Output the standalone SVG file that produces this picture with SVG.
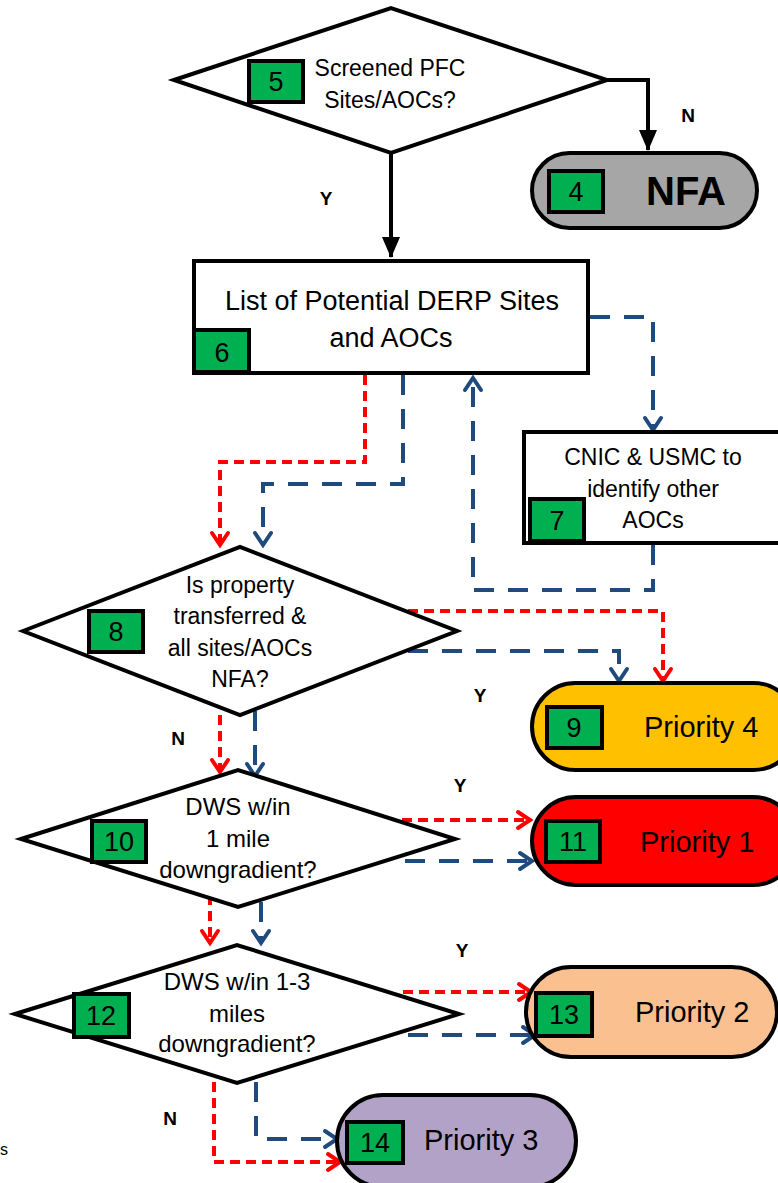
<svg xmlns="http://www.w3.org/2000/svg" width="778" height="1183" viewBox="0 0 778 1183">
<defs>
<style>
.shape{stroke:#000;stroke-width:4;stroke-linejoin:miter}
.white{fill:#fff}
.num{fill:#00b050;stroke:#000;stroke-width:4}
text{font-family:"Liberation Sans",Arial,sans-serif;fill:#000}
.t{font-size:23px;text-anchor:middle}
.nt{font-size:27px;text-anchor:middle}
.pr{font-size:29px}
.lbl{font-size:19px;font-weight:bold;text-anchor:middle}
.red{fill:none;stroke:#ff0000;stroke-width:4;stroke-dasharray:10 6}
.blue{fill:none;stroke:#1f4a7e;stroke-width:4;stroke-dasharray:20 14}
.blk{fill:none;stroke:#000;stroke-width:4}
</style>
<marker id="ar" markerUnits="userSpaceOnUse" markerWidth="20" markerHeight="20" refX="15" refY="10" orient="auto" overflow="visible">
<path d="M3,2 L15,10 L3,18" fill="none" stroke="#ff0000" stroke-width="4" stroke-linecap="round" stroke-linejoin="miter"/>
</marker>
<marker id="ab" markerUnits="userSpaceOnUse" markerWidth="20" markerHeight="20" refX="15" refY="10" orient="auto" overflow="visible">
<path d="M3,2 L15,10 L3,18" fill="none" stroke="#1f4a7e" stroke-width="4" stroke-linecap="round" stroke-linejoin="miter"/>
</marker>
<marker id="ak" markerUnits="userSpaceOnUse" markerWidth="24" markerHeight="24" refX="20" refY="9" orient="auto" overflow="visible">
<path d="M0,0 L21,9 L0,18 Z" fill="#000"/>
</marker>
</defs>

<g id="connectors">
<path class="blk" d="M607,80 H648 V150" marker-end="url(#ak)"/>
<path class="blk" d="M391,153 V257" marker-end="url(#ak)"/>
<path class="red" d="M365,375 V462 H220 V545" marker-end="url(#ar)"/>
<path class="blue" d="M403,375 V484 H263 V545" marker-end="url(#ab)"/>
<path class="blue" d="M590,317 H653 V430" marker-end="url(#ab)"/>
<path class="blue" d="M653,545 V590 H473 V378" marker-end="url(#ab)"/>
<path class="red" d="M408,611 H663 V681" marker-end="url(#ar)"/>
<path class="blue" d="M408,651 H619 V681" marker-end="url(#ab)"/>
<path class="red" d="M220,715 V772" marker-end="url(#ar)"/>
<path class="blue" d="M255,711 V776" marker-end="url(#ab)"/>
<path class="red" d="M402,820 H530" marker-end="url(#ar)"/>
<path class="blue" d="M405,861 H532" marker-end="url(#ab)"/>
<path class="red" d="M210,895 V943" marker-end="url(#ar)"/>
<path class="blue" d="M261,902 V943" marker-end="url(#ab)"/>
<path class="red" d="M403,992 H531" marker-end="url(#ar)"/>
<path class="blue" d="M408,1035 H535" marker-end="url(#ab)"/>
<path class="red" d="M214,1082 V1162 H340" marker-end="url(#ar)"/>
<path class="blue" d="M256,1082 V1139 H337" marker-end="url(#ab)"/>
</g>

<g id="node5">
<polygon class="shape white" points="174,80 391,8 607,80 391,153"/>
<rect class="num" x="249" y="61" width="54" height="41"/>
<text class="nt" x="276" y="91">5</text>
<text class="t" x="390" y="76">Screened PFC</text>
<text class="t" x="390" y="108">Sites/AOCs?</text>
</g>

<g id="node4">
<rect class="shape" x="532" y="153" width="225" height="75" rx="37.5" fill="#a6a6a6"/>
<rect class="num" x="549" y="171" width="54" height="41"/>
<text class="nt" x="576" y="201">4</text>
<text x="686" y="205" style="font-size:40px;font-weight:bold;text-anchor:middle">NFA</text>
</g>

<g id="node6">
<rect class="shape white" x="194" y="261" width="394" height="112"/>
<rect class="num" x="194" y="330" width="55" height="42"/>
<text class="nt" x="222" y="362">6</text>
<text x="392" y="310" style="font-size:27px;text-anchor:middle">List of Potential DERP Sites</text>
<text x="391" y="347" style="font-size:27px;text-anchor:middle">and AOCs</text>
</g>

<g id="node7">
<rect class="shape white" x="524" y="432" width="272" height="111"/>
<rect class="num" x="530" y="499" width="54" height="42"/>
<text class="nt" x="557" y="530">7</text>
<text class="t" x="653" y="465">CNIC &amp; USMC to</text>
<text class="t" x="653" y="497">identify other</text>
<text class="t" x="653" y="528">AOCs</text>
</g>

<g id="node8">
<polygon class="shape white" points="23,631 240,547 457,631 240,715"/>
<rect class="num" x="89" y="611" width="54" height="41"/>
<text class="nt" x="116" y="641">8</text>
<text class="t" x="240" y="593">Is property</text>
<text class="t" x="240" y="624">transferred &amp;</text>
<text class="t" x="240" y="656">all sites/AOCs</text>
<text class="t" x="240" y="687">NFA?</text>
</g>

<g id="node9">
<rect class="shape" x="532" y="683" width="265" height="87" rx="43.5" fill="#ffc000"/>
<rect class="num" x="547" y="707" width="55" height="41"/>
<text class="nt" x="574" y="737">9</text>
<text class="pr" x="644" y="737">Priority 4</text>
</g>

<g id="node10">
<polygon class="shape white" points="21,839 238,770 455,839 238,907"/>
<rect class="num" x="92" y="821" width="54" height="41"/>
<text class="nt" x="119" y="851">10</text>
<text class="t" x="238" y="815" style="font-size:24px">DWS w/in</text>
<text class="t" x="238" y="847" style="font-size:24px">1 mile</text>
<text class="t" x="238" y="878" style="font-size:24px">downgradient?</text>
</g>

<g id="node11">
<rect class="shape" x="532" y="797" width="265" height="88" rx="44" fill="#ff0000"/>
<rect class="num" x="546" y="821" width="54" height="41"/>
<text class="nt" x="573" y="851">11</text>
<text class="pr" x="640" y="852">Priority 1</text>
</g>

<g id="node12">
<polygon class="shape white" points="15,1014 237,945 459,1014 237,1083"/>
<rect class="num" x="74" y="994" width="55" height="43"/>
<text class="nt" x="101" y="1025">12</text>
<text class="t" x="237" y="990" style="font-size:24px">DWS w/in 1-3</text>
<text class="t" x="237" y="1022" style="font-size:24px">miles</text>
<text class="t" x="237" y="1052" style="font-size:24px">downgradient?</text>
</g>

<g id="node13">
<rect class="shape" x="526" y="967" width="251" height="90" rx="45" fill="#fac090"/>
<rect class="num" x="536" y="993" width="56" height="43"/>
<text class="nt" x="564" y="1024">13</text>
<text class="pr" x="635" y="1022">Priority 2</text>
</g>

<g id="node14">
<rect class="shape" x="337" y="1095" width="239" height="92" rx="46" fill="#b3a2c7"/>
<rect class="num" x="347" y="1122" width="56" height="41"/>
<text class="nt" x="375" y="1152">14</text>
<text class="pr" x="424" y="1150">Priority 3</text>
</g>

<g id="labels">
<text class="lbl" x="688" y="122">N</text>
<text class="lbl" x="326" y="205">Y</text>
<text class="lbl" x="480" y="702">Y</text>
<text class="lbl" x="178" y="745">N</text>
<text class="lbl" x="460" y="792">Y</text>
<text class="lbl" x="462" y="957">Y</text>
<text class="lbl" x="170" y="1125">N</text>
<text x="0" y="1155" style="font-size:16px">s</text>
</g>
</svg>
